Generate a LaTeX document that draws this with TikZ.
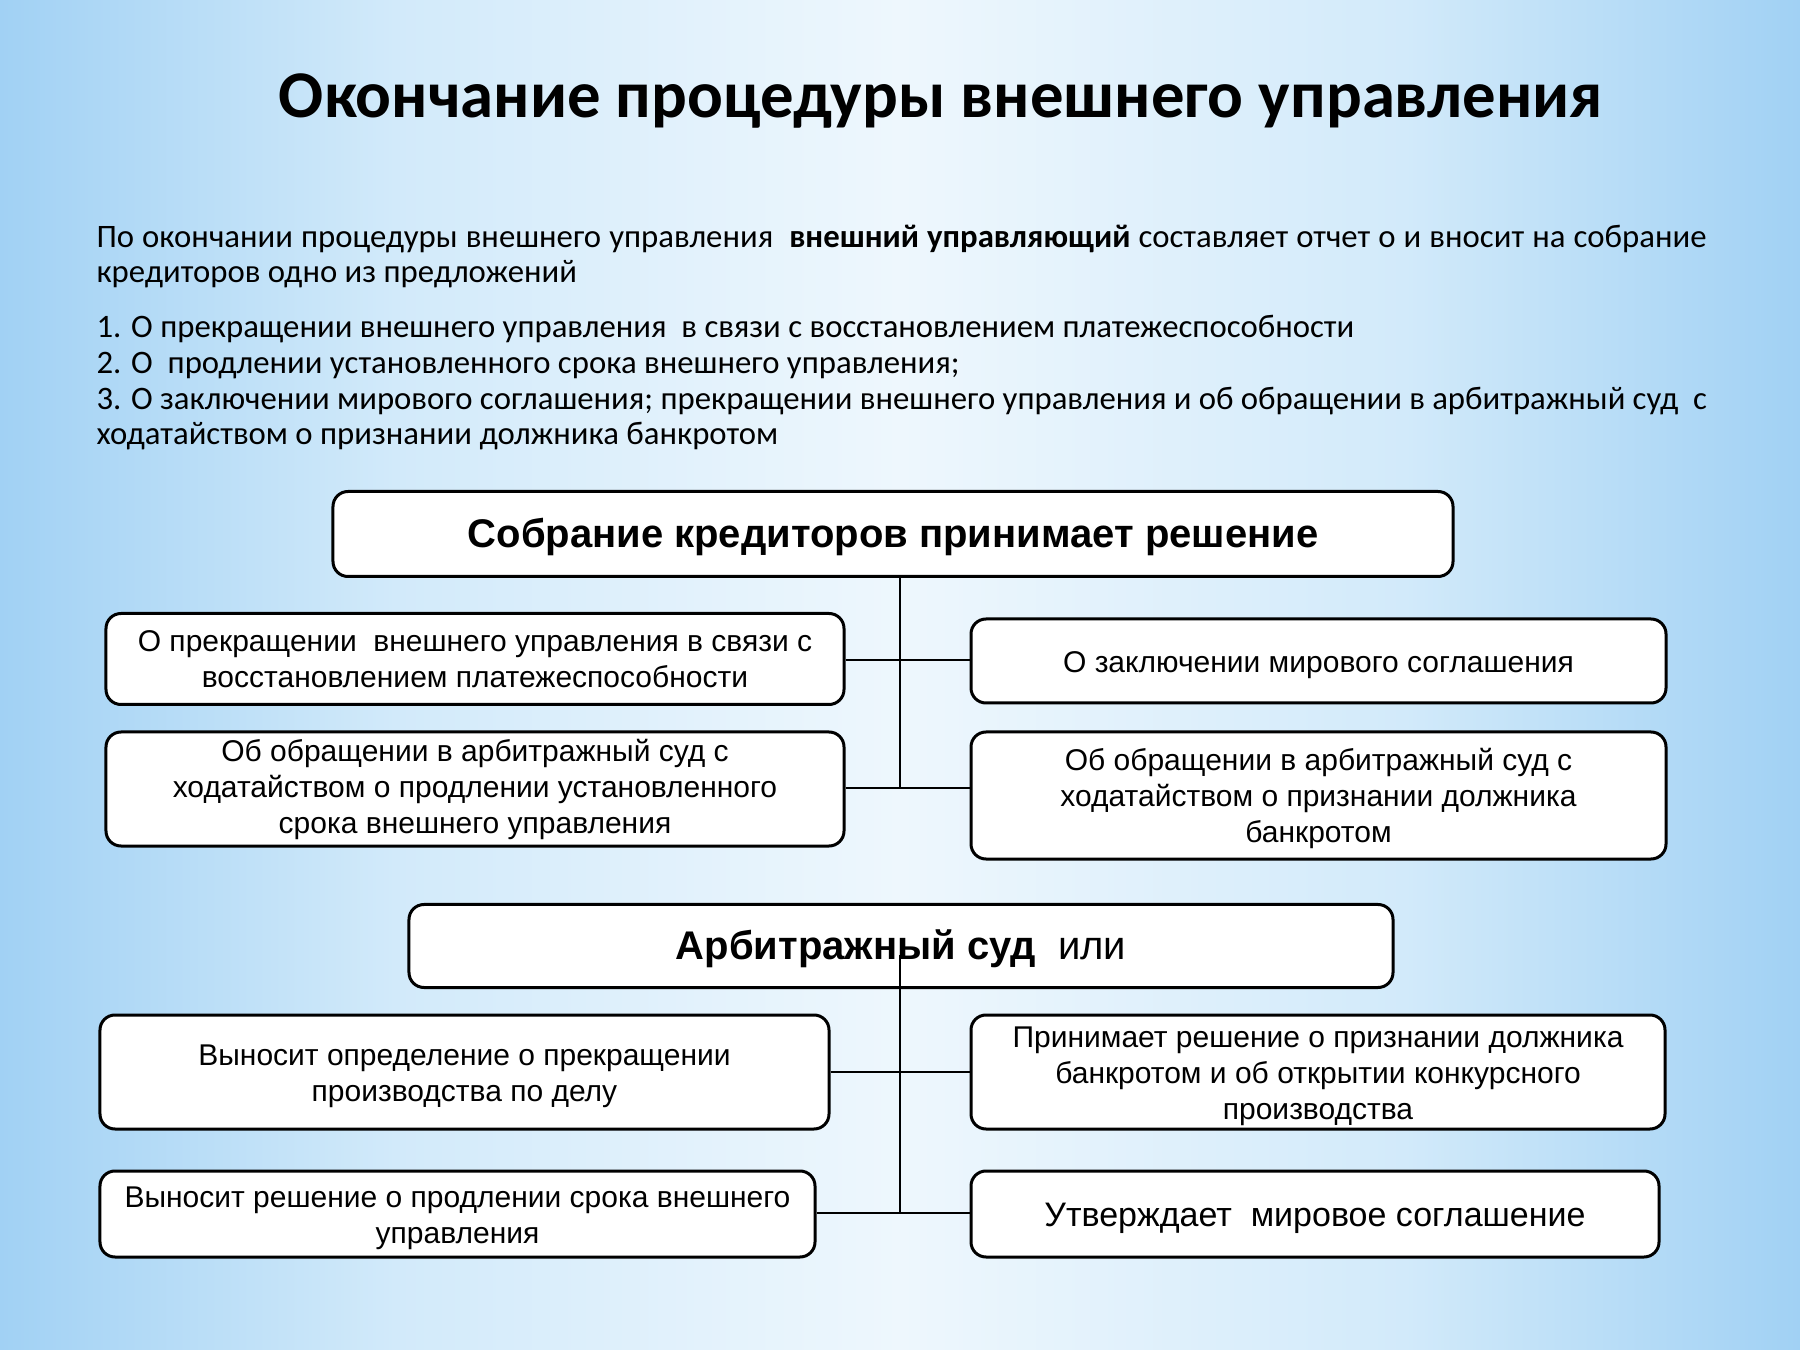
\documentclass[tikz,border=0pt]{standalone}
\usepackage{fontspec}
\setmainfont{Liberation Sans}
\newfontfamily\calfont{Carlito}
\usetikzlibrary{calc}
\definecolor{bgedge}{HTML}{A1D1F4}
\definecolor{bgmid}{HTML}{D2EAFA}
\definecolor{bgcenter}{HTML}{EEF7FD}
\pgfdeclarehorizontalshading{bgshade}{100bp}{color(0bp)=(bgedge); color(25bp)=(bgedge); color(36bp)=(bgmid); color(50bp)=(bgcenter); color(64bp)=(bgmid); color(75bp)=(bgedge); color(100bp)=(bgedge)}
\newcommand{\dnstrut}[1]{\rule{0pt}{#1}}
\begin{document}
\begin{tikzpicture}[x=0.4pt,y=-0.4pt,
  box/.style={draw=black, line width=1.2pt, rounded corners=6pt, fill=white, align=center, inner sep=0pt, font=\fontsize{12}{14.4}\selectfont},
  conn/.style={draw=black, line width=0.8pt},
  para/.style={anchor=base west, inner sep=0pt, font=\calfont\fontsize{13.1}{14.4}\selectfont},
  ]
\fill[shading=bgshade] (0,0) rectangle (1800,1350);
\useasboundingbox (0,0) rectangle (1800,1350);

\node[anchor=base, inner sep=0pt, font=\calfont\bfseries\fontsize{26.7}{32}\selectfont] (title) at (941,118) {Окончание процедуры внешнего управления};

\node[para] (p1) at (96,248) {\makebox[644pt][s]{По окончании процедуры внешнего управления\ \ \textbf{внешний управляющий} составляет отчет о и вносит на собрание}};
\node[para] (p2) at (96,283) {кредиторов одно из предложений};
\node[para] (p3) at (96,338) {1. О прекращении внешнего управления\ \ в связи с восстановлением платежеспособности};
\node[para] (p4) at (96,374) {2. О\ \ продлении установленного срока внешнего управления;};
\node[para] (p5) at (96,410) {\makebox[644pt][s]{3. О заключении мирового соглашения; прекращении внешнего управления и об обращении в арбитражный суд\ \ с}};
\node[para] (p6) at (96,445) {ходатайством о признании должника банкротом};

\node[box, minimum width=448pt, minimum height=34pt, font=\fontsize{16}{19}\selectfont\bfseries] (S) at (893,534) {\dnstrut{14.4pt}Собрание кредиторов принимает решение};
\node[box, minimum width=295.2pt, minimum height=36.4pt] (L1) at (475,659) {О прекращении\ \ внешнего управления в связи с\\восстановлением платежеспособности};
\node[box, minimum width=278pt, minimum height=33.6pt] (R1) at (1318.5,661) {\dnstrut{11.6pt}О заключении мирового соглашения};
\node[box, minimum width=295.2pt, minimum height=45.6pt] (L2) at (475,789) {Об обращении в арбитражный суд с\\ходатайством о продлении установленного\\срока внешнего управления};
\node[box, minimum width=278pt, minimum height=50.8pt] (R2) at (1318.5,795.5) {\dnstrut{11.6pt}Об обращении в арбитражный суд с\\ходатайством о признании должника\\банкротом};

\node[box, minimum width=393.6pt, minimum height=33.2pt, font=\fontsize{16}{19}\selectfont] (A) at (901,946) {\dnstrut{14.4pt}\textbf{Арбитражный суд}\ \ или};
\node[box, minimum width=291.6pt, minimum height=45.6pt] (L3) at (464.5,1072) {\dnstrut{11.6pt}Выносит определение о прекращении\\производства по делу};
\node[box, minimum width=277.6pt, minimum height=45.6pt] (R3) at (1318,1072) {\dnstrut{11.6pt}Принимает решение о признании должника\\банкротом и об открытии конкурсного\\производства};
\node[box, minimum width=286pt, minimum height=34.4pt] (L4) at (457.5,1214) {\dnstrut{11.6pt}Выносит решение о продлении срока внешнего\\управления};
\node[box, minimum width=275.2pt, minimum height=34.4pt, font=\fontsize{13.6}{16}\selectfont] (R4) at (1315,1214) {\dnstrut{12.8pt}Утверждает\ \ мировое соглашение};

\coordinate (j1) at (900,660);
\coordinate (j2) at (900,788);
\draw[conn] (S.south -| j2) -- (j2);
\draw[conn] (L1.east |- j1) -- (j1 -| R1.west);
\draw[conn] (L2.east |- j2) -- (j2 -| R2.west);
\coordinate (k0) at (900,955);
\coordinate (k2) at (900,1213);
\draw[conn] (k0) -- (k2);
\draw[conn] (L3.east) -- (R3.west);
\draw[conn] (L4.east |- k2) -- (k2 -| R4.west);
\end{tikzpicture}
\end{document}
